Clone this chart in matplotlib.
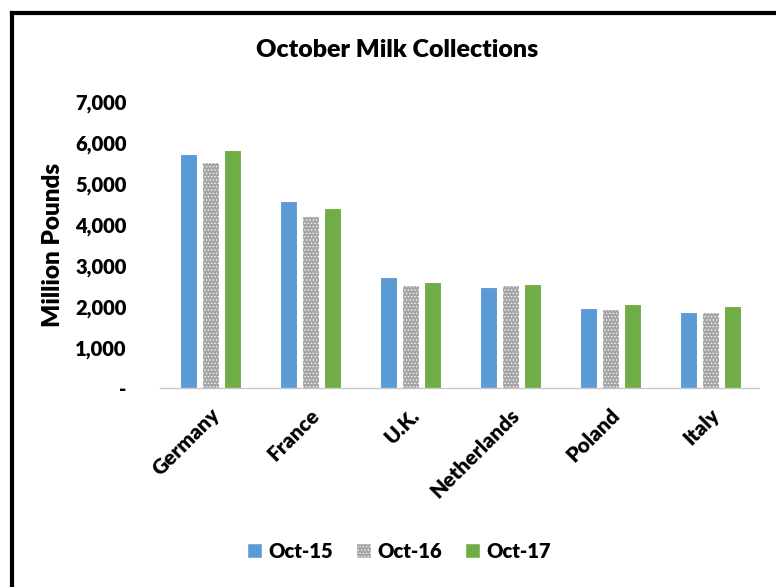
import matplotlib
matplotlib.use("Agg")
import matplotlib.pyplot as plt
from matplotlib.lines import Line2D
from matplotlib.patches import Patch
import numpy as np

plt.rcParams['font.family'] = ['Lato', 'DejaVu Sans']
plt.rcParams['hatch.color'] = '#939393'
plt.rcParams['hatch.linewidth'] = 0.5

countries = ["Germany", "France", "U.K.", "Netherlands", "Poland", "Italy"]
series_names = ["Oct-15", "Oct-16", "Oct-17"]
oct15 = [5720, 4570, 2720, 2470, 1970, 1860]
oct16 = [5520, 4200, 2515, 2515, 1930, 1860]
oct17 = [5805, 4405, 2590, 2555, 2060, 2020]
yticks = [0, 1000, 2000, 3000, 4000, 5000, 6000, 7000]
ytick_labels = ["-", "1,000", "2,000", "3,000", "4,000", "5,000", "6,000", "7,000"]

colors = ["#5B9BD5", "#A5A5A5", "#70AD47"]
hatches = [None, ".....", None]
WEIGHT = 'heavy'

fig = plt.figure(figsize=(7.76, 5.87), dpi=100)
W, H = 776, 587
ax = fig.add_axes([160 / W, 1 - 388.3 / H, 600 / W, (388.3 - 101.5) / H])

x = np.arange(len(countries))
width = 0.17
step = 0.22
for i, (vals, c, h) in enumerate(zip([oct15, oct16, oct17], colors, hatches)):
    ax.bar(x + (i - 1) * step, vals, width, color=c, edgecolor='white',
           linewidth=0.8, hatch=h, label=series_names[i], zorder=2)

ax.set_xlim(-0.5, len(countries) - 0.5)
ax.set_ylim(0, 7000)
ax.set_yticks(yticks)
ax.set_yticklabels(ytick_labels, fontsize=14.5, fontweight=WEIGHT)
ax.set_xticks(x)
ax.set_xticklabels(countries, rotation=45, ha='right', rotation_mode='anchor',
                   fontsize=15, fontweight=WEIGHT)
ax.tick_params(axis='both', length=0)
ax.tick_params(axis='y', pad=24)
ax.tick_params(axis='x', pad=12)
for s in ['top', 'right', 'left']:
    ax.spines[s].set_visible(False)
ax.spines['bottom'].set_color('#c8c8c8')
ax.spines['bottom'].set_linestyle((0, (2, 1)))
ax.spines['bottom'].set_linewidth(1.0)

ax.set_ylabel("Million Pounds", fontsize=17.5, fontweight=WEIGHT, labelpad=8)

fig.text(397 / W, 1 - 50 / H, "October Milk Collections", ha='center', va='center',
         fontsize=18, fontweight=WEIGHT)

handles = [Patch(facecolor=colors[i], edgecolor='white', hatch=hatches[i], label=series_names[i])
           for i in range(3)]
fig.legend(handles=handles, loc='center', bbox_to_anchor=(399 / W, 1 - 551 / H),
           ncol=3, frameon=False, prop={'size': 14.5, 'weight': WEIGHT},
           handlelength=0.75, handleheight=0.75, handletextpad=0.35, columnspacing=1.1)

# outer border (top and left, as in the cropped reference)
fig.add_artist(Line2D([11.5 / W, 1.0], [1 - 13 / H, 1 - 13 / H], color='black', lw=3,
                      transform=fig.transFigure, solid_capstyle='projecting'))
fig.add_artist(Line2D([11.5 / W, 11.5 / W], [1 - 13 / H, 0.0], color='black', lw=3,
                      transform=fig.transFigure, solid_capstyle='projecting'))

fig.savefig("out.png", dpi=100, facecolor='white')
